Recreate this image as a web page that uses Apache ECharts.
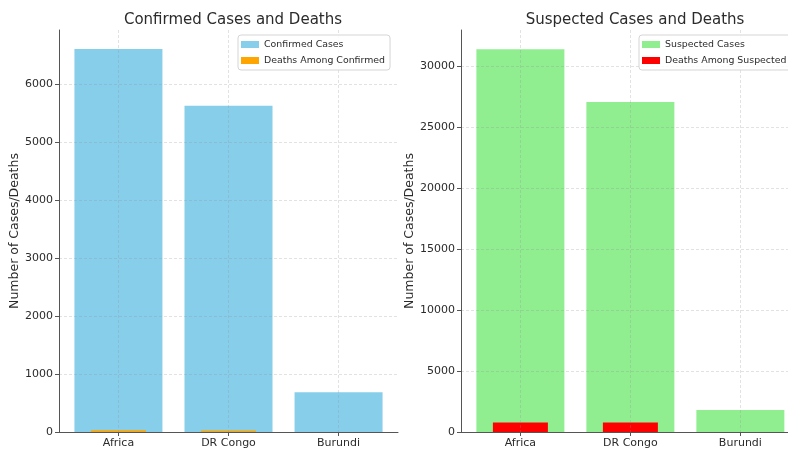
<!DOCTYPE html>
<html>
<head>
<meta charset="utf-8">
<script src="https://cdn.jsdelivr.net/npm/echarts@6/dist/echarts.min.js"></script>
<style>html,body{margin:0;padding:0;background:#fff}#c{width:788px;height:451px}</style>
</head>
<body>
<div id="c"></div>
<script>
const categories = ['Africa', 'DR Congo', 'Burundi'];
const confirmedCases = [6607, 5630, 685];
const confirmedDeaths = [30, 25, 0];
const suspectedCases = [31394, 27050, 1805];
const suspectedDeaths = [770, 770, 0];
const confirmedTicks = [0, 1000, 2000, 3000, 4000, 5000, 6000];
const suspectedTicks = [0, 5000, 10000, 15000, 20000, 25000, 30000];
const catPositions = [0, 1, 2];

const font = 'DejaVu Sans';
const textColor = '#2b2b2b';
const gridLine = {show: true, lineStyle: {color: 'rgba(140,140,140,0.32)', type: [3, 2], width: 0.8}};
const toPairs = arr => arr.map((v, i) => [catPositions[i], v]);

function xAxisFor(gridIndex, show, xmax) {
  return {
    type: 'value', gridIndex: gridIndex, min: -0.54, max: xmax, show: show, z: 3,
    axisLine: {show: true, onZero: false, lineStyle: {color: '#555', width: 1}},
    axisTick: {show: true, customValues: catPositions, length: 4, lineStyle: {color: '#555'}},
    axisLabel: {customValues: catPositions, formatter: v => categories[Math.round(v)] || '',
      color: textColor, fontFamily: font, fontSize: 11, margin: 6},
    splitLine: gridLine
  };
}
function yAxisFor(gridIndex, max, ticks) {
  return {
    type: 'value', gridIndex: gridIndex, min: 0, max: max, z: 3,
    name: 'Number of Cases/Deaths', nameLocation: 'middle',
    nameGap: gridIndex === 0 ? 37 : 44,
    nameTextStyle: {color: textColor, fontFamily: font, fontSize: 12.5},
    axisLine: {show: true, onZero: false, lineStyle: {color: '#555', width: 1}},
    axisTick: {show: true, customValues: ticks, length: 4, lineStyle: {color: '#555'}},
    axisLabel: {customValues: ticks, formatter: v => String(v),
      color: textColor, fontFamily: font, fontSize: 11, margin: 6},
    splitLine: gridLine
  };
}
function legendFor(left, names, colors) {
  return {
    orient: 'vertical', left: left, top: 35, z: 6,
    data: names.map((n, i) => ({name: n, itemStyle: {color: colors[i]}})),
    itemWidth: 18, itemHeight: 7, itemGap: 7,
    padding: [5, 5, 5, 3],
    borderColor: '#d5d5d5', borderWidth: 1, borderRadius: 3,
    backgroundColor: 'rgba(255,255,255,0.85)',
    textStyle: {color: textColor, fontFamily: font, fontSize: 9.4},
    icon: 'rect'
  };
}

const option = {
  animation: false,
  backgroundColor: '#fff',
  title: [
    {text: 'Confirmed Cases and Deaths', left: 228, top: 8, textAlign: 'center',
     textStyle: {color: textColor, fontFamily: font, fontSize: 15, fontWeight: 'normal'}},
    {text: 'Suspected Cases and Deaths', left: 630, top: 8, textAlign: 'center',
     textStyle: {color: textColor, fontFamily: font, fontSize: 15, fontWeight: 'normal'}}
  ],
  legend: [
    legendFor(238, ['Confirmed Cases', 'Deaths Among Confirmed'], ['#87CEEB', '#FFA500']),
    legendFor(639, ['Suspected Cases', 'Deaths Among Suspected'], ['#90EE90', '#FF0000'])
  ],
  grid: [
    {left: 59, top: 30, width: 339, height: 402},
    {left: 461, top: 30, width: 327, height: 402}
  ],
  xAxis: [xAxisFor(0, true, 2.54), xAxisFor(0, false, 2.54), xAxisFor(1, true, 2.433), xAxisFor(1, false, 2.433)],
  yAxis: [yAxisFor(0, 6937, confirmedTicks), yAxisFor(1, 32964, suspectedTicks)],
  series: [
    {name: 'Confirmed Cases', type: 'bar', xAxisIndex: 0, yAxisIndex: 0, barWidth: 88,
     data: toPairs(confirmedCases), itemStyle: {color: '#87CEEB'}, z: 1},
    {name: 'Deaths Among Confirmed', type: 'bar', xAxisIndex: 1, yAxisIndex: 0, barWidth: 55,
     data: toPairs(confirmedDeaths), itemStyle: {color: '#FFA500'}, z: 2},
    {name: 'Suspected Cases', type: 'bar', xAxisIndex: 2, yAxisIndex: 1, barWidth: 88,
     data: toPairs(suspectedCases), itemStyle: {color: '#90EE90'}, z: 1},
    {name: 'Deaths Among Suspected', type: 'bar', xAxisIndex: 3, yAxisIndex: 1, barWidth: 55,
     data: toPairs(suspectedDeaths), itemStyle: {color: '#FF0000'}, z: 2}
  ]
};
const chart = echarts.init(document.getElementById('c'), null, {renderer: 'canvas'});
chart.setOption(option);
</script>
</body>
</html>
